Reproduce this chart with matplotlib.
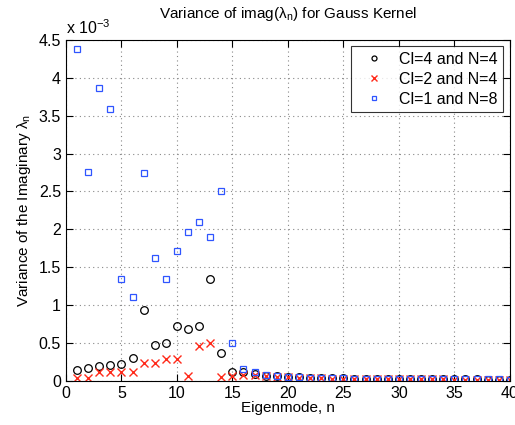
import matplotlib
matplotlib.use("Agg")
import matplotlib.pyplot as plt
import numpy as np
from matplotlib.ticker import FuncFormatter

plt.rcParams['font.family'] = ['Liberation Sans', 'DejaVu Sans']
plt.rcParams['mathtext.fontset'] = 'custom'
plt.rcParams['mathtext.rm'] = 'Liberation Sans'
plt.rcParams['mathtext.it'] = 'Liberation Sans'

# eigenmode index
n = np.arange(1, 41)

# Cl=4 and N=4 (circles)
var_cl4 = [0.145, 0.167, 0.20, 0.21, 0.22, 0.30, 0.94, 0.475, 0.50, 0.73,
           0.69, 0.73, 1.34, 0.37, 0.11, 0.12, 0.09, 0.066, 0.057, 0.05,
           0.045, 0.04, 0.037, 0.034, 0.031, 0.029, 0.027, 0.025, 0.024, 0.023,
           0.022, 0.021, 0.020, 0.019, 0.019, 0.018, 0.018, 0.017, 0.017, 0.016]

# Cl=2 and N=4 (crosses)
var_cl2 = [0.035, 0.035, 0.11, 0.11, 0.12, 0.12, 0.23, 0.23, 0.29, 0.29,
           0.057, 0.46, 0.505, 0.05, 0.065, 0.08, 0.07, 0.06, 0.05, 0.045,
           0.04, 0.036, 0.033, 0.03, 0.028, 0.026, 0.025, 0.023, 0.022, 0.021,
           0.020, 0.019, 0.018, 0.018, 0.017, 0.017, 0.016, 0.016, 0.015, 0.015]

# Cl=1 and N=8 (squares)
var_cl1 = [4.38, 2.76, 3.86, 3.59, 1.35, 1.10, 2.75, 1.62, 1.35, 1.71,
           1.96, 2.09, 1.90, 2.51, 0.505, 0.16, 0.11, 0.08, 0.065, 0.055,
           0.048, 0.042, 0.038, 0.035, 0.032, 0.030, 0.028, 0.026, 0.025, 0.024,
           0.023, 0.022, 0.021, 0.020, 0.020, 0.019, 0.019, 0.018, 0.018, 0.017]

scale = 1e-3

fig = plt.figure(figsize=(5.15, 4.25), dpi=100)
ax = fig.add_axes([0.128, 0.104, 0.862, 0.802])

ax.plot(n, np.array(var_cl4) * scale, 'o', mfc='none', mec='black', ms=5.5, mew=0.9,
        label='Cl=4 and N=4')
ax.plot(n, np.array(var_cl2) * scale, 'x', color='#ff2a1a', ms=6, mew=1.0,
        label='Cl=2 and N=4')
ax.plot(n, np.array(var_cl1) * scale, 's', mfc='none', mec='#2f55ff', ms=4.8, mew=0.9,
        label='Cl=1 and N=8')

ax.set_xlim(0, 40)
ax.set_ylim(0, 4.5e-3)
ax.set_xticks(np.arange(0, 41, 5))
ax.set_yticks(np.arange(0, 4.51e-3, 0.5e-3))
ax.yaxis.set_major_formatter(FuncFormatter(lambda v, p: '%g' % round(v / scale, 3)))

ax.grid(True, linestyle=(0, (1, 3)), color='#888888', linewidth=0.8)
ax.tick_params(direction='in', top=True, right=True, labelsize=11.5, length=5, width=0.8)
for s in ax.spines.values():
    s.set_linewidth(0.8)

ax.set_title('Variance of imag($\\lambda_n$) for Gauss Kernel', fontsize=11, pad=16)
ax.set_xlabel('Eigenmode, n', fontsize=11, labelpad=0)
ax.set_ylabel('Variance of the Imaginary $\\lambda_n$', fontsize=11, labelpad=4)
ax.text(0.0, 1.01, 'x 10$^{-3}$', transform=ax.transAxes, fontsize=11.5,
        ha='left', va='bottom')

leg = ax.legend(loc='upper right', fontsize=11.5, frameon=True, fancybox=False,
                edgecolor='black', borderaxespad=0.4, handletextpad=0.5,
                handlelength=2.2, labelspacing=0.3, borderpad=0.35,
                markerscale=0.65)
leg.get_frame().set_linewidth(0.8)

fig.savefig('out.png', dpi=100)
